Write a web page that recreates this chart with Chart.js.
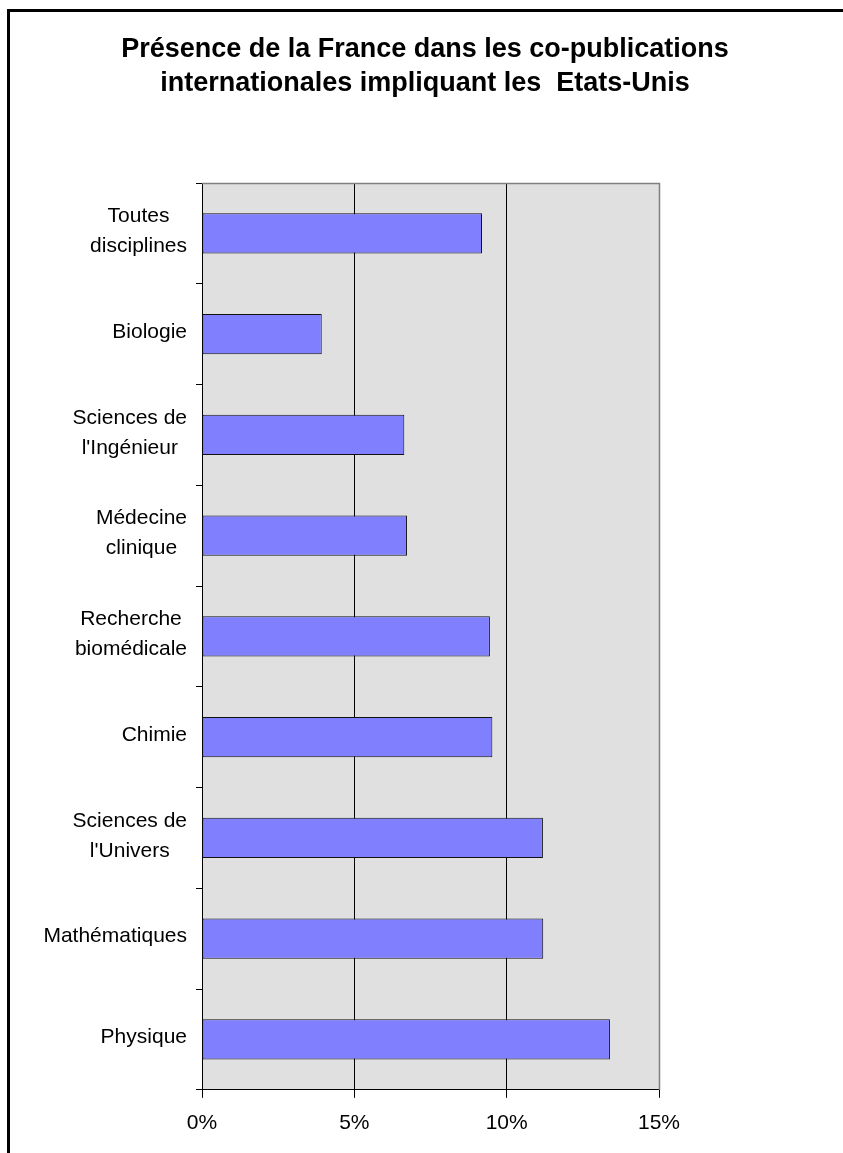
<!DOCTYPE html>
<html>
<head>
<meta charset="utf-8">
<script src="https://cdn.jsdelivr.net/npm/chart.js@4/dist/chart.umd.min.js"></script>
<style>
    body { margin: 0; background: #fff; }
    canvas { display: block; }
</style>
</head>
<body>
<canvas id="presence-chart" width="843" height="1153"></canvas>
<script>
// Disciplines (one entry per bar, multi-line labels as arrays)
const disciplines = [
    ["Toutes", "disciplines"],
    ["Biologie"],
    ["Sciences de", "l'Ingénieur"],
    ["Médecine", "clinique"],
    ["Recherche", "biomédicale"],
    ["Chimie"],
    ["Sciences de", "l'Univers"],
    ["Mathématiques"],
    ["Physique"],
];

// Share of France in the co-publications, in %
const franceShare = [9.19, 3.93, 6.64, 6.73, 9.45, 9.53, 11.19, 11.2, 13.39];

// x axis ticks
const xTicks = [0, 5, 10, 15];

const titleLines = [
    "Présence de la France dans les co-publications",
    "internationales impliquant les  Etats-Unis",
];

const FONT = "'Liberation Sans', Arial, sans-serif";

// frame lines (left + top), title and grey plot background
const framePlugin = {
    id: "frame",
    beforeDraw(chart) {
        const ctx = chart.ctx;
        const a = chart.chartArea;
        ctx.save();
        ctx.fillStyle = "#fff";
        ctx.fillRect(0, 0, chart.width, chart.height);
        ctx.fillStyle = "#000";
        ctx.fillRect(7, 9, 3, chart.height);
        ctx.fillRect(7, 9, chart.width, 3);

        ctx.font = "bold 27px " + FONT;
        ctx.textAlign = "center";
        ctx.textBaseline = "middle";
        titleLines.forEach((line, i) => {
            ctx.fillText(line, 425, 50 + i * 34);
        });

        ctx.fillStyle = "#e0e0e0";
        ctx.fillRect(a.left, a.top, a.right - a.left, a.bottom - a.top);
        ctx.restore();
    },
    beforeDatasetsDraw(chart) {
        const ctx = chart.ctx;
        const a = chart.chartArea;
        ctx.save();
        ctx.strokeStyle = "#808080";
        ctx.lineWidth = 1.5;
        ctx.beginPath();
        ctx.moveTo(a.left, a.top + 0.5);
        ctx.lineTo(a.right + 0.5, a.top + 0.5);
        ctx.lineTo(a.right + 0.5, a.bottom);
        ctx.stroke();
        ctx.restore();
    },
};

// category labels: lines centred on each other, block right-aligned to the axis
const categoryLabels = {
    id: "categoryLabels",
    afterDraw(chart) {
        const ctx = chart.ctx;
        const yScale = chart.scales.y;
        const right = chart.chartArea.left - 15;
        const lineHeight = 30;
        ctx.save();
        ctx.font = "21px " + FONT;
        ctx.fillStyle = "#000";
        ctx.textAlign = "center";
        ctx.textBaseline = "middle";
        disciplines.forEach((lines, i) => {
            const yc = yScale.getPixelForValue(i) - 2;
            const maxW = Math.max(...lines.map((l) => ctx.measureText(l).width));
            const x = right - maxW / 2;
            lines.forEach((line, j) => {
                ctx.fillText(line, x, yc + (j - (lines.length - 1) / 2) * lineHeight);
            });
        });
        ctx.restore();
    },
};

var ctx = document.getElementById("presence-chart").getContext("2d");

var chart = new Chart(ctx, {
    type: "bar",
    data: {
        labels: disciplines,
        datasets: [
            {
                label: "France",
                data: franceShare,
                backgroundColor: "#8080ff",
                borderColor: "#111",
                borderWidth: 1,
                borderSkipped: false,
                barPercentage: 0.4,
                categoryPercentage: 1,
            },
        ],
    },
    options: {
        indexAxis: "y",
        responsive: false,
        animation: false,
        layout: {
            padding: { left: 196, right: 184, top: 183, bottom: 4 },
        },
        plugins: {
            legend: { display: false },
            tooltip: { enabled: false },
            title: { display: false },
        },
        scales: {
            x: {
                min: xTicks[0],
                max: xTicks[xTicks.length - 1],
                afterBuildTicks: (scale) => {
                    scale.ticks = xTicks.map((v) => ({ value: v }));
                },
                ticks: {
                    color: "#000",
                    font: { family: FONT, size: 21 },
                    padding: 13,
                    maxRotation: 0,
                    callback: (v) => v + "%",
                },
                grid: {
                    color: (c) => (c.tick && c.tick.value === 15 ? "#808080" : "#000"),
                    lineWidth: 1,
                    tickColor: "#000",
                    tickLength: 8,
                },
                border: { color: "#000", width: 1 },
            },
            y: {
                offset: true,
                ticks: { display: false },
                grid: {
                    offset: true,
                    drawOnChartArea: false,
                    drawTicks: true,
                    tickLength: 6,
                    tickColor: "#000",
                },
                border: { color: "#000", width: 1 },
            },
        },
    },
    plugins: [framePlugin, categoryLabels],
});
</script>
</body>
</html>
